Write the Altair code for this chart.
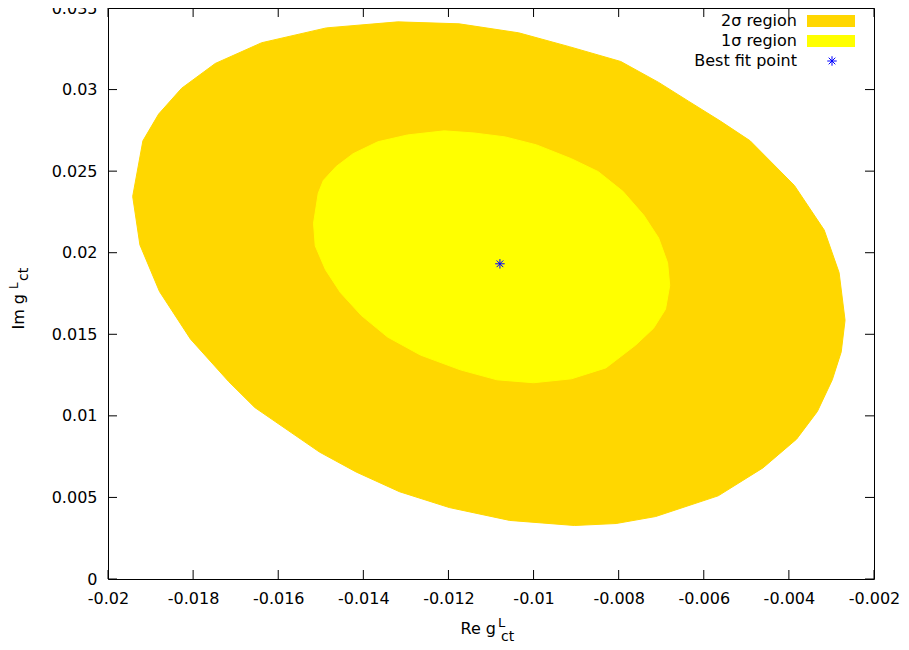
import altair as alt
import pandas as pd

# ---- data ----
outer_x = [-0.01319, -0.01175, -0.01035, -0.00916, -0.00795, -0.00706, -0.00636, -0.00561,
           -0.00491, -0.00387, -0.00317, -0.00282, -0.00268, -0.00277, -0.00298, -0.00333,
           -0.00382, -0.00461, -0.00566, -0.00713, -0.00806, -0.00904, -0.01056, -0.01198,
           -0.01315, -0.01417, -0.01503, -0.01655, -0.01716, -0.01806, -0.01879, -0.01925,
           -0.01942, -0.01918, -0.01881, -0.01827, -0.01748, -0.01639, -0.01487]
outer_y = [0.03415, 0.03403, 0.03348, 0.03263, 0.03172, 0.03044, 0.02929, 0.02807,
           0.02686, 0.02412, 0.02139, 0.01878, 0.01586, 0.01392, 0.01221, 0.01027,
           0.00857, 0.00681, 0.00510, 0.00383, 0.00340, 0.00328, 0.00359, 0.00438,
           0.00535, 0.00656, 0.00778, 0.01051, 0.01209, 0.01470, 0.01762, 0.02048,
           0.02345, 0.02686, 0.02850, 0.03008, 0.03160, 0.03287, 0.03378]
inner_x = [-0.01210, -0.01140, -0.01067, -0.00993, -0.00911, -0.00848, -0.00790, -0.00741,
           -0.00706, -0.00685, -0.00680, -0.00690, -0.00718, -0.00760, -0.00830, -0.00911,
           -0.01000, -0.01086, -0.01172, -0.01266, -0.01343, -0.01405, -0.01454, -0.01489,
           -0.01513, -0.01517, -0.01506, -0.01494, -0.01464, -0.01424, -0.01366, -0.01296]
inner_y = [0.02747, 0.02734, 0.02710, 0.02661, 0.02576, 0.02497, 0.02376, 0.02230,
           0.02090, 0.01938, 0.01799, 0.01653, 0.01537, 0.01434, 0.01294, 0.01227,
           0.01203, 0.01221, 0.01282, 0.01373, 0.01483, 0.01616, 0.01756, 0.01896,
           0.02042, 0.02181, 0.02364, 0.02443, 0.02528, 0.02607, 0.02680, 0.02722]
best_x = [-0.01079]
best_y = [0.01932]
x_ticks = [-0.02, -0.018, -0.016, -0.014, -0.012, -0.01, -0.008, -0.006, -0.004, -0.002]
y_ticks = [0, 0.005, 0.01, 0.015, 0.02, 0.025, 0.03, 0.035]
legend_labels = ["2σ region", "1σ region", "Best fit point"]

GOLD = "#FFD700"
YELLOW = "#FFFF00"
BLUE = "#0000FF"
FONT = "DejaVu Sans"
W, H = 766, 571
TICK = 9


def poly_df(xs, ys):
    xs = list(xs) + [xs[0]]
    ys = list(ys) + [ys[0]]
    return pd.DataFrame({"x": xs, "y": ys, "i": list(range(len(xs)))})


xscale = alt.Scale(domain=[-0.02, -0.002], nice=False, zero=False)
yscale = alt.Scale(domain=[0, 0.035], nice=False, zero=False)

xaxis = alt.Axis(values=x_ticks, labelExpr="'' + datum.value", ticks=False,
                 domain=False, grid=False, labelFont=FONT, labelFontSize=16,
                 labelColor="black", labelPadding=11, labelFlush=False,
                 labelOverlap=False, labelBound=False, title=None)
yaxis = alt.Axis(values=y_ticks, labelExpr="'' + datum.value", ticks=False,
                 domain=False, grid=False, labelFont=FONT, labelFontSize=16,
                 labelColor="black", labelPadding=11, labelFlush=False,
                 labelOverlap=False, labelBound=False, title=None)

X = lambda f: alt.X(f, scale=xscale, axis=xaxis)
Y = lambda f: alt.Y(f, scale=yscale, axis=yaxis)

outer = alt.Chart(poly_df(outer_x, outer_y)).mark_line(
    fill=GOLD, stroke=GOLD, strokeWidth=1
).encode(x=X("x:Q"), y=Y("y:Q"), order=alt.Order("i:Q"))

inner = alt.Chart(poly_df(inner_x, inner_y)).mark_line(
    fill=YELLOW, stroke=YELLOW, strokeWidth=1
).encode(x=X("x:Q"), y=Y("y:Q"), order=alt.Order("i:Q"))

STAR = "M-1,0L1,0M0,-1L0,1M-0.7,-0.7L0.7,0.7M-0.7,0.7L0.7,-0.7"
best = alt.Chart(pd.DataFrame({"x": best_x, "y": best_y})).mark_point(
    shape=STAR, size=90, filled=False, stroke=BLUE, strokeWidth=1, opacity=1
).encode(x=X("x:Q"), y=Y("y:Q"))

# inside ticks (gnuplot style, mirrored)
xt = pd.DataFrame({"x": x_ticks})
yt = pd.DataFrame({"y": y_ticks})
tb = alt.Chart(xt).mark_rule(color="black", strokeWidth=1).encode(
    x=X("x:Q"), y=alt.value(H), y2=alt.value(H - TICK))
tt = alt.Chart(xt).mark_rule(color="black", strokeWidth=1).encode(
    x=X("x:Q"), y=alt.value(0), y2=alt.value(TICK))
tl = alt.Chart(yt).mark_rule(color="black", strokeWidth=1).encode(
    y=Y("y:Q"), x=alt.value(0), x2=alt.value(TICK))
tr = alt.Chart(yt).mark_rule(color="black", strokeWidth=1).encode(
    y=Y("y:Q"), x=alt.value(W), x2=alt.value(W - TICK))

one = pd.DataFrame({"a": [0]})


def txt(t, x, y, size=16, align="left", baseline="alphabetic", angle=0):
    return alt.Chart(one).mark_text(
        text=t, font=FONT, fontSize=size, align=align, baseline=baseline,
        angle=angle, color="black"
    ).encode(x=alt.value(x), y=alt.value(y))


# legend (anchored to the right edge of the frame)
leg_layers = []
leg_y = [13, 33, 53]
for lab, ly in zip(legend_labels, leg_y):
    leg_layers.append(txt(lab, W - 77, ly, align="right", baseline="middle"))
leg_layers.append(alt.Chart(one).mark_rect(color=GOLD).encode(
    x=alt.value(W - 67), x2=alt.value(W - 19), y=alt.value(leg_y[0] - 6), y2=alt.value(leg_y[0] + 6)))
leg_layers.append(alt.Chart(one).mark_rect(color=YELLOW).encode(
    x=alt.value(W - 67), x2=alt.value(W - 19), y=alt.value(leg_y[1] - 6), y2=alt.value(leg_y[1] + 6)))
leg_layers.append(alt.Chart(one).mark_point(
    shape=STAR, size=90, filled=False, stroke=BLUE, strokeWidth=1, opacity=1
).encode(x=alt.value(W - 42), y=alt.value(leg_y[2])))

# axis titles with super/subscripts
titles = [
    txt("Re g", 388, 626, align="right"),
    txt("L", 390, 619, size=13),
    txt("ct", 393, 633, size=14),
    txt("Im g", -84, 286, align="right", angle=270),
    txt("L", -90, 281, size=12, angle=270),
    txt("ct", -80, 273, size=14, angle=270),
]

chart = alt.layer(
    outer, inner, best, tb, tt, tl, tr, *leg_layers, *titles
).properties(
    width=W, height=H,
    padding={"left": 100, "top": 0, "right": 27, "bottom": 70},
    autosize=alt.AutoSizeParams(type="none"),
    background="white",
).configure_view(stroke="black", strokeWidth=1)

chart.save("out.html", embed_options={"renderer": "svg", "actions": False})
